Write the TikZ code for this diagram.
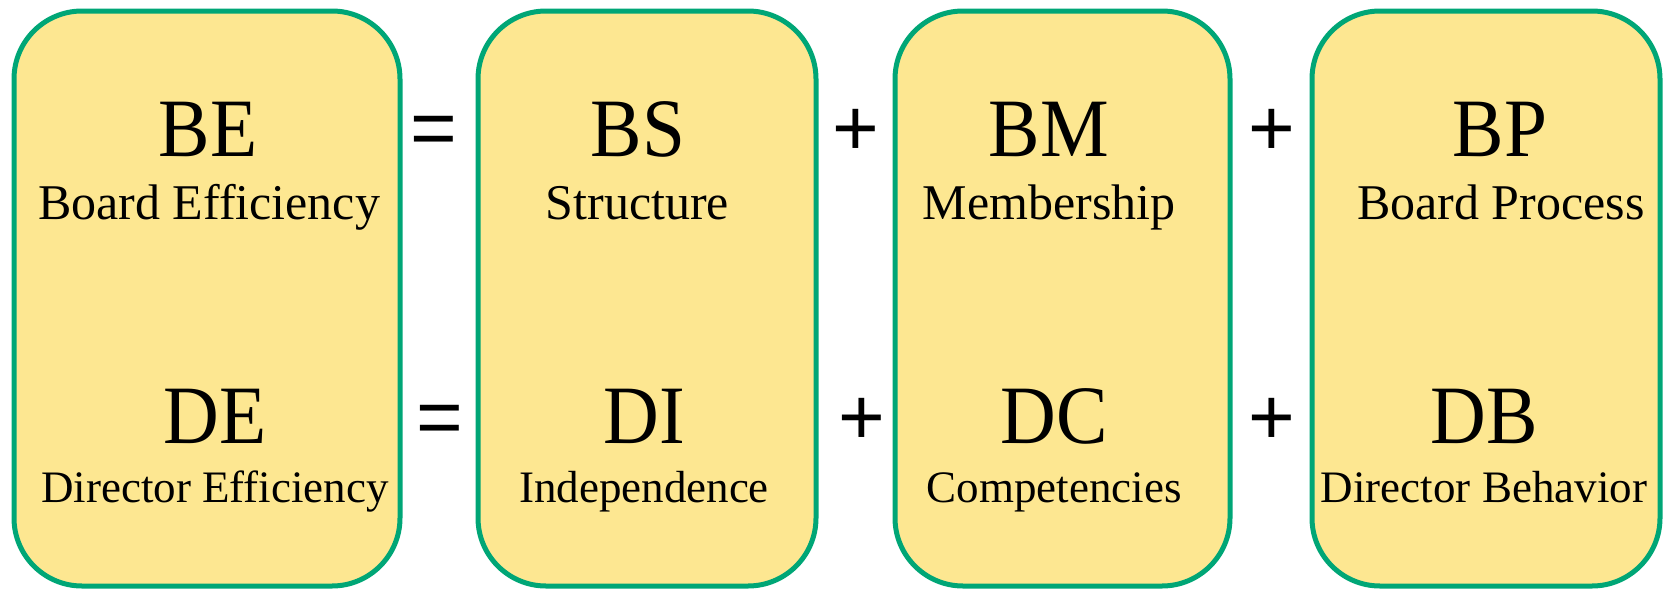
\documentclass[tikz,border=0pt]{standalone}
\usepackage{fontspec}
\setmainfont{Liberation Serif}
\newfontfamily\abbrfont[FakeStretch=0.93]{Liberation Serif}
\newfontfamily\opfont{Liberation Sans}
\definecolor{boxfill}{RGB}{253,231,145}
\definecolor{boxline}{RGB}{0,166,118}
\begin{document}
\begin{tikzpicture}[x=1pt,y=-1pt,
  panel/.style={draw=boxline, fill=boxfill, line width=5pt,
    rounded corners=68pt, inner sep=0pt},
  abbr/.style={anchor=base, inner sep=0pt, font=\abbrfont\fontsize{83}{90}\selectfont},
  toplabel/.style={anchor=base, inner sep=0pt, font=\fontsize{50}{56}\selectfont},
  lowlabel/.style={anchor=base, inner sep=0pt, font=\fontsize{45}{50}\selectfont},
  op/.style={anchor=base, inner sep=0pt, font=\opfont\fontsize{80}{88}\selectfont}]
\useasboundingbox (0,0) rectangle (1663,589);

% four panels
\node[panel, minimum width=386pt, minimum height=575pt] (p1) at (207,298.5) {};
\node[panel, minimum width=338pt, minimum height=575pt] (p2) at (647,298.5) {};
\node[panel, minimum width=335pt, minimum height=575pt] (p3) at (1062.5,298.5) {};
\node[panel, minimum width=348pt, minimum height=575pt] (p4) at (1486,298.5) {};

% board row
\node[abbr] (be) at (208,156) {BE};
\node[toplabel] (bel) at (209,219.5) {Board Efficiency};
\node[abbr] (bs) at (638,156) {BS};
\node[toplabel] (bsl) at (637.5,219.5) {Structure};
\node[abbr] (bm) at (1049,156) {BM};
\node[toplabel] (bml) at (1049,219.5) {Membership};
\node[abbr] (bp) at (1500,156) {BP};
\node[toplabel] (bpl) at (1501,219.5) {Board Process};

% director row
\node[abbr] (de) at (215,443) {DE};
\node[lowlabel] (del) at (215,502.5) {Director Efficiency};
\node[abbr] (di) at (644,443) {DI};
\node[lowlabel] (dil) at (644,502.5) {Independence};
\node[abbr] (dc) at (1054,443) {DC};
\node[lowlabel] (dcl) at (1054,502.5) {Competencies};
\node[abbr] (db) at (1484,443) {DB};
\node[lowlabel] (dbl) at (1484,502.5) {Director Behavior};

% operators
\node[op] (eq1) at (434,155) {=};
\node[op] (pl1) at (856,155) {+};
\node[op] (pl2) at (1272,155) {+};
\node[op] (eq2) at (440,444) {=};
\node[op] (pl3) at (862,444) {+};
\node[op] (pl4) at (1272,444) {+};
\end{tikzpicture}
\end{document}
